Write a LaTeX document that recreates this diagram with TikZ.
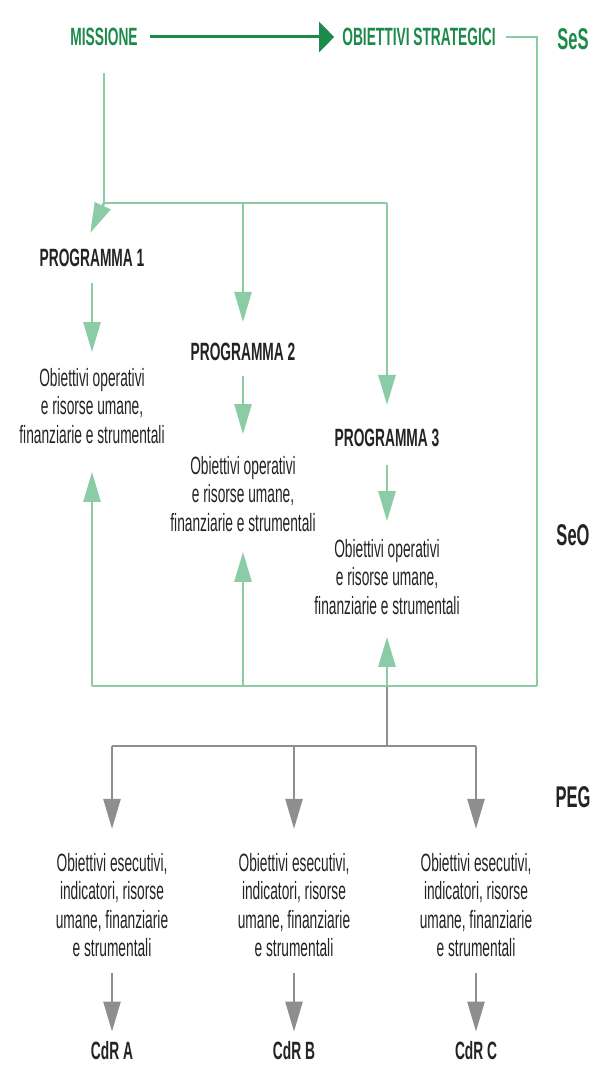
\documentclass[tikz,border=0pt]{standalone}
\usepackage{fontspec}
\setmainfont{Liberation Sans}[FakeStretch=0.55]
\usetikzlibrary{arrows.meta}
\definecolor{verdescuro}{HTML}{1B8A4B}
\definecolor{verdechiaro}{HTML}{8BCBA6}
\definecolor{grigio}{HTML}{8E8E8E}
\definecolor{testo}{HTML}{232323}
\newcommand {\obop} {Obiettivi operativi\\e risorse umane,\\finanziarie e strumentali}
\newcommand {\obes} {Obiettivi esecutivi,\\indicatori, risorse\\umane, finanziarie\\e strumentali}

\begin{document}
\begin{tikzpicture}[x=1pt, y=-1pt, >={Triangle[length=30pt,width=17pt]},
	every node/.style={inner sep=0pt},
	titolo/.style={font=\bfseries\fontsize{25}{28}\selectfont, text=verdescuro},
	prog/.style={font=\bfseries\fontsize{25}{28}\selectfont, text=testo},
	descr/.style={align=center, font=\fontsize{25}{28.5}\selectfont, text=testo},
	livello/.style={font=\bfseries\fontsize{30}{32}\selectfont, text=testo},
	lineaverde/.style={color=verdechiaro, line width=2.6pt},
	lineagrigia/.style={color=grigio, line width=2.5pt}]
		\useasboundingbox (0,0) rectangle (603,1065);

		\node[titolo] (mis) at (104,37) {MISSIONE};
		\node[titolo] (obS) at (419,37) {OBIETTIVI STRATEGICI};
		\node[livello, text=verdescuro] (ses) at (573,39) {SeS};
		\node[livello] (seo) at (573,535) {SeO};
		\node[livello] (peg) at (573,797) {PEG};

		\node[prog] (pr1) at (92,258) {PROGRAMMA 1};
		\node[prog] (pr2) at (243,352) {PROGRAMMA 2};
		\node[prog] (pr3) at (387,438) {PROGRAMMA 3};
		\node[descr] (ob1) at (92,406) {\obop};
		\node[descr] (ob2) at (243,494) {\obop};
		\node[descr] (ob3) at (387,577) {\obop};

		\node[descr] (es1) at (112,905) {\obes};
		\node[descr] (es2) at (294,905) {\obes};
		\node[descr] (es3) at (476,905) {\obes};
		\node[prog] (cdr1) at (112,1051) {CdR A};
		\node[prog] (cdr2) at (294,1051) {CdR B};
		\node[prog] (cdr3) at (476,1051) {CdR C};

		\coordinate (mA) at (104,203);
		\coordinate (mB) at (243,203);
		\coordinate (mC) at (387,203);
		\coordinate (rA) at (92,686);
		\coordinate (rB) at (243,686);
		\coordinate (rC) at (387,686);
		\coordinate (rD) at (537,686);
		\coordinate (gA) at (112,746);
		\coordinate (gB) at (294,746);
		\coordinate (gC) at (387,746);
		\coordinate (gD) at (476,746);

		% SeS
		\draw[line width=3pt, color=verdescuro, -{Triangle[length=15pt,width=30pt]},
			shorten <=12pt, shorten >=8pt] (mis) -- (obS);
		\draw[lineaverde, shorten <=10pt] (obS) -| (rD);
		\draw[lineaverde, shorten <=27pt] (mis) -- (mA);
		\draw[lineaverde] (mA) -- (mC);

		% SeO
		\path[lineaverde, ->]
		(mA) edge [shorten >=17.6pt] (pr1.135)
		(mB) edge [shorten >=21pt] (pr2)
		(mC) edge [shorten >=24pt] (pr3)
		(pr1) edge [shorten <=16pt, shorten >=16pt] (ob1)
		(pr2) edge [shorten <=15pt, shorten >=22pt] (ob2)
		(pr3) edge [shorten <=18pt, shorten >=18pt] (ob3)
		;

		% PEG
		\draw[lineagrigia] (gC) -- (rC);
		\draw[lineagrigia] (gA) -- (gD);
		\path[lineagrigia, ->]
		(gA) edge [shorten >=24pt] (es1)
		(gB) edge [shorten >=24pt] (es2)
		(gD) edge [shorten >=24pt] (es3)
		(es1) edge [shorten <=16pt, shorten >=10pt] (cdr1)
		(es2) edge [shorten <=16pt, shorten >=10pt] (cdr2)
		(es3) edge [shorten <=16pt, shorten >=10pt] (cdr3)
		;

		\draw[lineaverde] (rA) -- (rD);
		\path[lineaverde, ->]
		(rA) edge [shorten >=28pt] (ob1)
		(rB) edge [shorten >=20pt] (ob2)
		(rC) edge [shorten >=22pt] (ob3)
		;
	\end{tikzpicture}
\end{document}
